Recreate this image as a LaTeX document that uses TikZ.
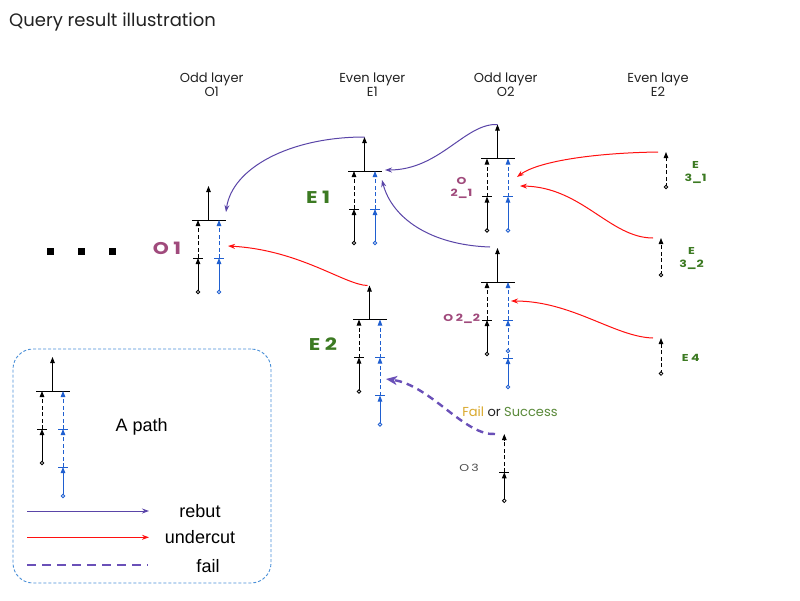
\documentclass[tikz,border=0pt]{standalone}
\usepackage{fontspec}
\setmainfont{Poppins}
\newfontfamily\arialf{Liberation Sans}
\newfontfamily\popf{Poppins}
\usetikzlibrary{arrows.meta,calc}

\definecolor{pathblue}{HTML}{1F5FD0}
\definecolor{rebutc}{HTML}{5A45A8}
\definecolor{failc}{HTML}{6A50B8}
\definecolor{undc}{HTML}{FF1010}
\definecolor{magl}{HTML}{A04A7C}
\definecolor{grnl}{HTML}{3C7A22}
\definecolor{boxblue}{HTML}{4A90D8}
\definecolor{failtxt}{HTML}{D9A82B}
\definecolor{succtxt}{HTML}{5A8A3A}
\definecolor{txtc}{HTML}{222222}

\tikzset{
 solidln/.style={line width=1pt,-{Triangle[length=6pt,width=4.5pt]}},
 dashln/.style={line width=1pt,dash pattern=on 4pt off 2.5pt,-{Triangle[length=6pt,width=4.5pt]}},
 tickln/.style={line width=1pt},
 endcirc/.style={line width=0.8pt,fill=white},
 rebut/.style={rebutc,line width=1pt,-{Stealth[length=7pt,width=5pt]}},
 undercut/.style={undc,line width=1pt,-{Stealth[length=7pt,width=5pt]}},
 failarrow/.style={failc,line width=2.4pt,dash pattern=on 7pt off 5pt,-{Stealth[length=11pt,width=9pt,inset=3pt]}},
 biglab/.style={inner sep=0pt,font=\popf\bfseries\fontsize{17}{17}\selectfont},
 smalllab/.style={inner sep=0pt,align=center,font=\popf\bfseries\fontsize{10}{12.5}\selectfont},
 header/.style={inner sep=0pt,align=center,text=txtc,font=\popf\fontsize{13}{14}\selectfont},
 legtext/.style={inner sep=0pt,font=\arialf\fontsize{18}{18}\selectfont},
 dotsq/.style={fill=black,inner sep=0pt,minimum size=7pt},
}

\newcommand\shortcol[2]{%
 \draw[#2,solidln] (#1,72) -- (#1,38);
 \draw[#2,dashln] (#1,38) -- (#1,0);
 \draw[#2,tickln] (#1-5,38) -- (#1+5,38);
 \draw[#2,endcirc] (#1,72) circle[radius=1.8];
}
\newcommand\longcol[2]{%
 \draw[#2,solidln] (#1,105) -- (#1,76);
 \draw[#2,dashln] (#1,76) -- (#1,38);
 \draw[#2,dashln] (#1,38) -- (#1,0);
 \draw[#2,tickln] (#1-5,38) -- (#1+5,38);
 \draw[#2,tickln] (#1-5,76) -- (#1+5,76);
 \draw[#2,endcirc] (#1,105) circle[radius=1.8];
}
\newcommand\argtree[4]{%
\begin{scope}[shift={(#2,#3)}]
 \coordinate (#1-top) at (10.5,-34);
 \coordinate (#1-bar) at (10.5,0);
 \draw[solidln] (#1-bar) -- (#1-top);
 \draw[tickln] (-6,0) -- (28,0);
 \shortcol{0}{black}
 \ifnum#4=1 \longcol{21}{pathblue}\else\shortcol{21}{pathblue}\fi
\end{scope}}
\newcommand\singlecol[4]{% name, x, top y, circle y
 \coordinate (#1-top) at (#2,#3);
 \coordinate (#1-bot) at (#2,#4);
 \draw[dashln] (#1-bot) -- (#1-top);
 \draw[endcirc] (#1-bot) circle[radius=1.8];
}

\begin{document}
\begin{tikzpicture}[x=1pt,y=-1pt]
\fill[white] (0,0) rectangle (800,600);
\useasboundingbox (0,0) rectangle (800,600);

% title and headers
\node[anchor=west,inner sep=0pt,text=txtc,font=\popf\fontsize{18}{18}\selectfont] (title) at (9,22) {Query result illustration};
\node[header] (h1) at (211.7,85) {Odd layer\\O1};
\node[header] (h2) at (372.3,85) {Even layer\\E1};
\node[header] (h3) at (505.7,85) {Odd layer\\O2};
\node[header] (h4) at (658,85) {Even laye\\E2};

% dots
\node[dotsq] (d1) at (50,251) {};
\node[dotsq] (d2) at (81,251) {};
\node[dotsq] (d3) at (112.3,251) {};

% argument trees
\argtree{O1}{198}{220}{0}
\argtree{E1}{354}{171}{0}
\argtree{O21}{487}{158.5}{0}
\argtree{O22}{487}{282}{1}
\draw[pathblue,endcirc] (508,351) circle[radius=1.8];
\argtree{E2}{359}{319.5}{1}
\argtree{LG}{42}{391}{1}

\singlecol{E31}{666}{152}{187}
\singlecol{E32}{661}{238}{275}
\singlecol{E4}{661}{338}{373.5}

% O3
\coordinate (O3-top) at (504.3,434);
\coordinate (O3-tick) at (504.3,472.3);
\coordinate (O3-bot) at (504.3,500.7);
\draw[solidln] (O3-bot) -- (O3-tick);
\draw[dashln] (O3-tick) -- (O3-top);
\draw[tickln] ($(O3-tick)+(-5,0)$) -- ($(O3-tick)+(5,0)$);
\draw[endcirc] (O3-bot) circle[radius=1.8];

% labels
\node[biglab,text=magl] (lO1) at (167,248) {\scalebox{1.2}[1]{O 1}};
\node[biglab,text=grnl] (lE1) at (318,197) {\scalebox{1.25}[1]{E 1}};
\node[biglab,text=grnl] (lE2) at (323,344) {\scalebox{1.25}[1]{E 2}};
\node[smalllab,text=magl] (lO21) at (461.5,188) {\scalebox{1.25}[1]{O}\\\scalebox{1.25}[1]{2\_1}};
\node[smalllab,text=magl] (lO22) at (461.7,319) {\scalebox{1.25}[1]{O 2\_2}};
\node[smalllab,text=grnl] (lE31) at (695.5,172.5) {\scalebox{1.25}[1]{E}\\\scalebox{1.25}[1]{3\_1}};
\node[smalllab,text=grnl] (lE32) at (691.5,258.5) {\scalebox{1.25}[1]{E}\\\scalebox{1.25}[1]{3\_2}};
\node[smalllab,text=grnl] (lE4) at (690.7,358.3) {\scalebox{1.25}[1]{E 4}};
\node[inner sep=0pt,text=black!70,font=\popf\fontsize{10}{10}\selectfont] (lO3) at (469,468) {\scalebox{1.25}[1]{O\,3}};
\node[inner sep=0pt,font=\popf\fontsize{13}{13}\selectfont] (fs) at (510,412) {\textcolor{failtxt}{Fail} \textcolor{txtc}{or} \textcolor{succtxt}{Success}};

% target coordinates
\coordinate (tO1r) at (226,212);
\coordinate (tO1u) at (228,246);
\coordinate (tE1r) at (385,170);
\coordinate (tE1b) at (382,180);
\coordinate (tO21a) at (517,177);
\coordinate (tO21b) at (520,186);
\coordinate (tO22) at (511,301);
\coordinate (tE2) at (386,379);
\coordinate (sO22) at (490,247);
\coordinate (sO3) at (495,434);

% rebut
\draw[rebut] (E1-top) .. controls (290,137) and (232,168) .. (tO1r);
\draw[rebut] (O21-top) .. controls (465,123) and (440,170) .. (tE1r);
\draw[rebut] (sO22) .. controls (430,245) and (392,218) .. (tE1b);
% undercut
\draw[undercut] ([xshift=-8pt]E31-top) .. controls (590,153) and (537,162) .. (tO21a);
\draw[undercut] ([xshift=-8pt]E32-top) .. controls (610,238) and (582,187) .. (tO21b);
\draw[undercut] ([xshift=-8pt]E4-top) .. controls (615,337) and (572,301) .. (tO22);
\draw[undercut] ([xshift=-2pt]E2-top) .. controls (345,285) and (300,250) .. (tO1u);
% fail
\draw[failarrow] (sO3) .. controls (465,436) and (430,385) .. (tE2);

% legend
\node[draw=boxblue,line width=0.9pt,dash pattern=on 3pt off 2pt,rounded corners=20pt,minimum width=258pt,minimum height=234pt] (legend) at (142,466) {};
\node[legtext] (lap) at (141.7,426.7) {A path};
\coordinate (r1) at (27,511); \coordinate (r2) at (149,511);
\coordinate (u1) at (27,537.3); \coordinate (u2) at (149,537.3);
\coordinate (f1) at (27,565); \coordinate (f2) at (148,565);
\draw[rebut] (r1) -- (r2);
\draw[undercut] (u1) -- (u2);
\draw[failc,line width=2.4pt,dash pattern=on 9pt off 6pt] (f1) -- (f2);
\node[legtext] (lrb) at (200,511) {rebut};
\node[legtext] (luc) at (200,537.3) {undercut};
\node[legtext] (lfl) at (208,566) {fail};
\end{tikzpicture}
\end{document}
